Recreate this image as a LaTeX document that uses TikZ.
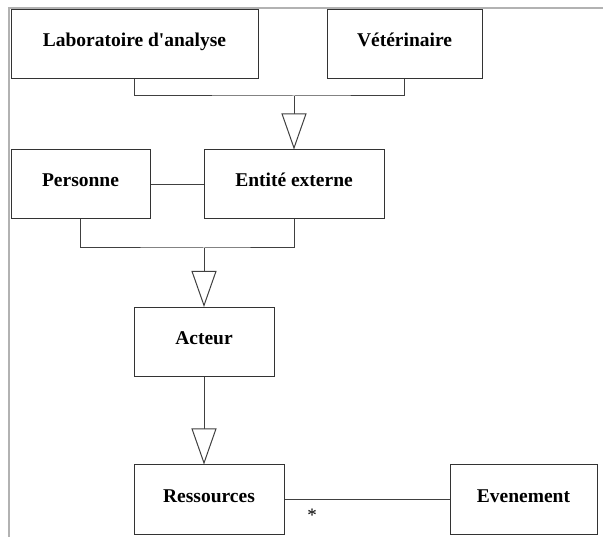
\documentclass[tikz,border=0pt]{standalone}
\usepackage{fontspec}
\setmainfont{Liberation Serif}
\usetikzlibrary{arrows.meta}
\tikzset{
  classe/.style={draw=black!80, line width=1pt, rectangle, inner sep=0pt,
    text height=37pt, text depth=32pt, font=\fontsize{19.5}{23}\selectfont\bfseries},
  lien/.style={draw=black!75, line width=1pt},
  herit/.style={lien, -{Triangle[open, length=36pt, width=25pt, fill=white]}}
}
\begin{document}
\begin{tikzpicture}[x=1pt,y=-1pt]
    \useasboundingbox (0,0) rectangle (603,537);
    % cadre de la fenetre
    \draw[gray!60, line width=1.5pt] (9,537) -- (9,8) -- (603,8);
    % classes
    \node[classe, minimum width=247pt] (labo) at (134.5,44.5) {Laboratoire d\textquotesingle analyse};
    \node[classe, minimum width=155pt] (veto) at (404.5,44.5) {Vétérinaire};
    \node[classe, minimum width=139pt] (personne) at (80.5,184.5) {Personne};
    \node[classe, minimum width=180pt] (entite) at (294,184.5) {Entité externe};
    \node[classe, minimum width=140pt] (acteur) at (204,342) {Acteur};
    \node[classe, minimum width=150pt] (ressources) at (209,499.5) {Ressources};
    \node[classe, minimum width=147pt] (evenement) at (523.5,499.5) {Evenement};
    % points de jonction
    \coordinate (h1) at (294,96);
    \coordinate (h2) at (204,248);
    % heritages
    \draw[lien] (labo.south) |- (h1) -| (veto.south);
    \draw[herit] (h1) -- (entite.north);
    \draw[lien] (personne.south) |- (h2) -| (entite.south);
    \draw[herit] (h2) -- (acteur.north);
    \draw[herit] (acteur.south) -- (acteur.south |- ressources.north);
    % associations
    \draw[lien] (personne.east) -- (entite.west);
    \draw[lien] (ressources.east) -- (evenement.west);
    \node[font=\fontsize{19}{22}\selectfont] (mult) at (312,515) {*}; % multiplicite
\end{tikzpicture}
\end{document}
